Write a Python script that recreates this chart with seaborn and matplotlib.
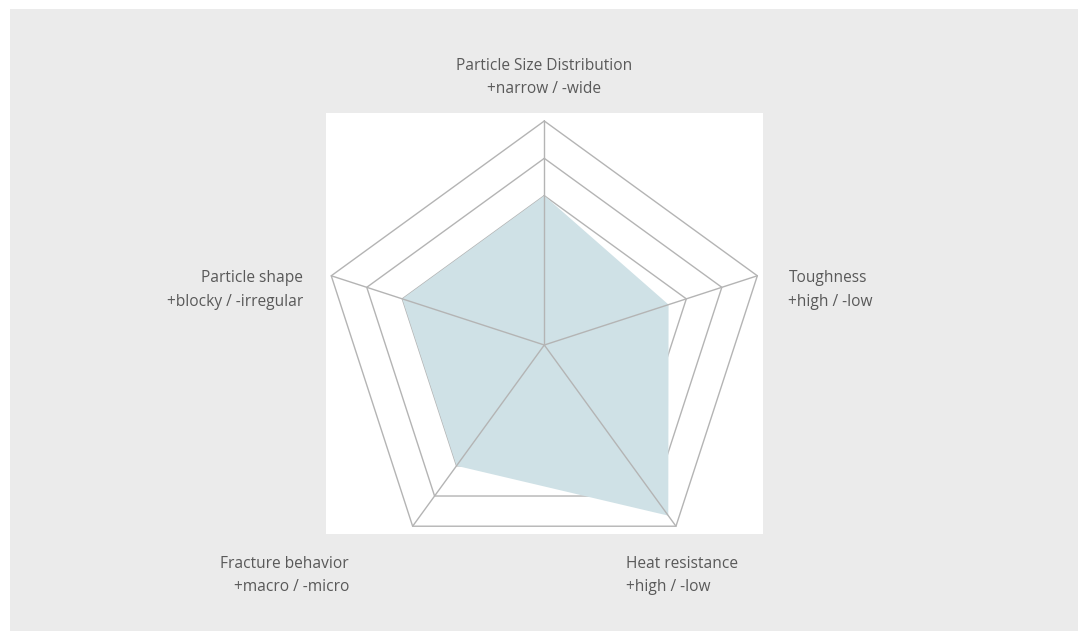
import numpy as np
import matplotlib
matplotlib.use('Agg')
import matplotlib.pyplot as plt
import seaborn as sns

sns.set_theme(style='white')
plt.rcParams['font.family'] = ['Open Sans', 'DejaVu Sans']

# Data (scale 0-6, rings drawn at 4, 5, 6)
categories = ['Particle Size Distribution\n+narrow / -wide',
              'Toughness\n+high / -low',
              'Heat resistance\n+high / -low',
              'Fracture behavior\n+macro / -micro',
              'Particle shape\n+blocky / -irregular']
values = [4.0, 3.5, 5.65, 4.0, 4.0]
rings = [4, 5, 6]
r_max = 6

# Angles: start at top, go clockwise
n = len(categories)
theta = np.pi / 2 - np.arange(n) * 2 * np.pi / n
theta_closed = np.append(theta, theta[0])

W, H = 1084, 631
fig = plt.figure(figsize=(10.84, 6.31), dpi=100, facecolor='white')

# gray panel behind everything (thin white margin top/left/right)
bg = fig.add_axes([10 / W, 0, 1068 / W, 622 / H], zorder=0)
bg.set_facecolor('#ebebeb')
bg.set_xticks([])
bg.set_yticks([])
for s in bg.spines.values():
    s.set_visible(False)

# white plot area in pixels: x 326..763, y 113..534
ax = fig.add_axes([326 / W, 1 - 534 / H, 437 / W, 421 / H], zorder=1)
ax.set_facecolor('white')
for s in ax.spines.values():
    s.set_visible(False)
ax.set_xticks([])
ax.set_yticks([])

unit = 224 / r_max  # pixels per data unit
cx, cy = 544.3, 345
ax.set_xlim(-(cx - 326) / unit, (763 - cx) / unit)
ax.set_ylim(-(534 - cy) / unit, (cy - 113) / unit)

grid_color = '#b4b4b4'

# Rings
for r in rings:
    ax.plot(r * np.cos(theta_closed), r * np.sin(theta_closed),
            color=grid_color, lw=1.0, zorder=1)

# Filled data area
vals_closed = np.append(values, values[0])
ax.fill(vals_closed * np.cos(theta_closed), vals_closed * np.sin(theta_closed),
        color='#cfe1e6', lw=0, zorder=2)

# Spokes
for t in theta:
    ax.plot([0, r_max * np.cos(t)], [0, r_max * np.sin(t)],
            color=grid_color, lw=1.0, zorder=3)

# Labels
txt = dict(color='#595959', fontsize=11.2, linespacing=1.62, clip_on=False)
ax.text(0, (cy - 77.5) / unit, categories[0], ha='center', va='center', **txt)
ax.text((788.5 - cx) / unit, (cy - 290) / unit, categories[1], ha='left', va='center', **txt)
ax.text((626 - cx) / unit, (cy - 575.5) / unit, categories[2], ha='left', va='center', **txt)
ax.text((349 - cx) / unit, (cy - 575.5) / unit, categories[3], ha='right', va='center', multialignment='right', **txt)
ax.text((303 - cx) / unit, (cy - 290) / unit, categories[4], ha='right', va='center', multialignment='right', **txt)

fig.savefig('out.png', dpi=100, facecolor=fig.get_facecolor())
